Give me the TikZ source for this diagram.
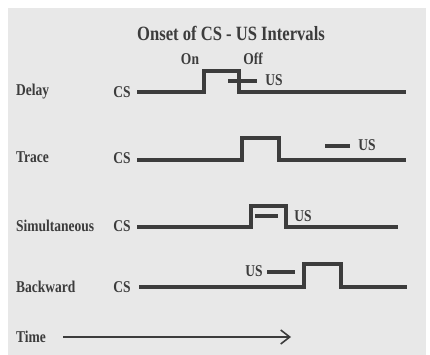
\documentclass[tikz,border=0pt]{standalone}
\usepackage{fontspec}
\usepackage{graphicx}
\setmainfont{Liberation Serif}
\usetikzlibrary{arrows.meta}
\definecolor{bg}{HTML}{E8E8E8}
\definecolor{ink}{HTML}{3C3C3C}
\newcommand{\vst}[1]{\scalebox{1}[1.22]{#1}}
\begin{document}
\begin{tikzpicture}[x=1pt,y=-1pt,
  lbl/.style={font=\bfseries\fontsize{13.5}{14}\selectfont, text=ink, inner sep=0pt},
  rowlbl/.style={lbl, anchor=west},
  sig/.style={draw=ink, line width=3.2pt, line join=miter},
  usl/.style={draw=ink, line width=3.2pt}]
\useasboundingbox (0,0) rectangle (430,355);
\fill[bg] (8,8) rectangle (426,355);
\node[lbl, font=\bfseries\fontsize{16.6}{17}\selectfont] (title) at (231,33) {\vst{Onset of CS - US Intervals}};
\node[lbl] (on) at (190,59) {\vst{On}};
\node[lbl] (off) at (253,59) {\vst{Off}};
% Delay
\node[rowlbl] (delay) at (16,92) {\vst{Delay}};
\node[lbl] (cs1) at (122,92) {\vst{CS}};
\coordinate (d0) at (137,92);
\coordinate (d1) at (406,92);
\draw[sig] (d0) -- (204,92) -- (204,71) -- (239,71) -- (239,92) -- (d1);
\coordinate (u1a) at (228,81);
\coordinate (u1b) at (257,81);
\draw[usl] (u1a) -- (u1b);
\node[lbl] (us1) at (274,80) {\vst{US}};
% Trace
\node[rowlbl] (trace) at (16,157) {\vst{Trace}};
\node[lbl] (cs2) at (122,158) {\vst{CS}};
\coordinate (t0) at (137,160);
\coordinate (t1) at (406,160);
\draw[sig] (t0) -- (242,160) -- (242,138) -- (279,138) -- (279,160) -- (t1);
\coordinate (u2a) at (325,146);
\coordinate (u2b) at (350,146);
\draw[usl] (u2a) -- (u2b);
\node[lbl] (us2) at (367,145) {\vst{US}};
% Simultaneous
\node[rowlbl] (simul) at (16,226) {\vst{Simultaneous}};
\node[lbl] (cs3) at (122,226) {\vst{CS}};
\coordinate (s0) at (137,227);
\coordinate (s1) at (398,227);
\draw[sig] (s0) -- (251,227) -- (251,206) -- (286,206) -- (286,227) -- (s1);
\coordinate (u3a) at (255,216);
\coordinate (u3b) at (278,216);
\draw[usl] (u3a) -- (u3b);
\node[lbl] (us3) at (303,216) {\vst{US}};
% Backward
\node[rowlbl] (backward) at (16,287) {\vst{Backward}};
\node[lbl] (cs4) at (122,287) {\vst{CS}};
\coordinate (b0) at (139,287);
\coordinate (b1) at (407,287);
\draw[sig] (b0) -- (304,287) -- (304,264) -- (341,264) -- (341,287) -- (b1);
\coordinate (u4a) at (267,272);
\coordinate (u4b) at (295,272);
\draw[usl] (u4a) -- (u4b);
\node[lbl] (us4) at (254,271) {\vst{US}};
% Time
\node[rowlbl] (time) at (16,337) {\vst{Time}};
\coordinate (ta) at (63,337);
\coordinate (tb) at (291,337);
\draw[draw=ink, line width=1.6pt, -{Straight Barb[length=9pt, width=14pt, line width=1.6pt]}] (ta) -- (tb);
\end{tikzpicture}
\end{document}
